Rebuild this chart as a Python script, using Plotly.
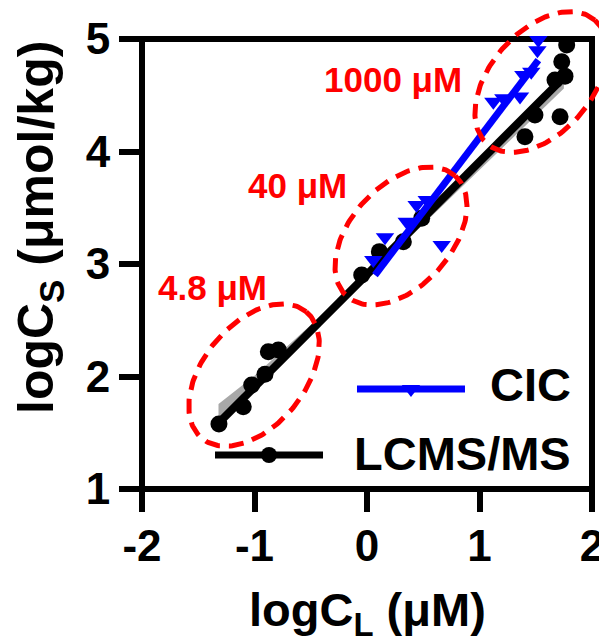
import numpy as np
import plotly.graph_objects as go

# browser window 607x643; the page body has an 8px default margin
WIN_W, WIN_H, OFF = 607, 643, 8
W, H = WIN_W - OFF, WIN_H - OFF
PX = 112.5  # px per data unit (both axes)

# ---------------- data ----------------
x_ticks = [-2, -1, 0, 1, 2]
x_ticktext = ["-2", "-1", "0", "1", "2"]
y_ticks = [1, 2, 3, 4, 5]
y_ticktext = ["1", "2", "3", "4", "5"]

lcms_x = [-1.316, -1.100, -1.025, -0.907, -0.877, -0.788, -0.047, 0.110, 0.323, 0.486,
          1.404, 1.493, 1.716, 1.671, 1.760, 1.731, 1.775]
lcms_y = [1.578, 1.732, 1.924, 2.020, 2.220, 2.236, 2.902, 3.110, 3.198, 3.406,
          4.131, 4.324, 4.309, 4.636, 4.670, 4.798, 4.947]

cic_x = [0.056, 0.160, 0.353, 0.441, 0.531, 0.664, 1.123, 1.212, 1.360, 1.390, 1.460, 1.515, 1.523]
cic_y = [3.036, 3.237, 3.376, 3.524, 3.569, 3.169, 4.443, 4.473, 4.490, 4.680, 4.710, 4.900, 4.991]

lcms_fit_x = [-1.32, 1.75]
lcms_fit_y = [1.585, 4.66]
cic_fit_x = [0.071, 1.523]
cic_fit_y = [2.902, 4.813]

band_x = [-1.32, -1.0, -0.5, 0.0, 0.5, 1.0, 1.5, 1.75]
band_hi = [1.755, 2.006, 2.457, 2.927, 3.418, 3.909, 4.410, 4.660]
band_lo = [1.555, 1.876, 2.362, 2.857, 3.353, 3.839, 4.320, 4.560]

group_labels = ["4.8 μM", "40 μM", "1000 μM"]
group_label_x = [-1.369, -0.622, 0.231]
group_label_y = [2.787, 3.702, 4.636]

ellipse_cx = [-1.004, 0.302, 1.547]
ellipse_cy = [2.013, 3.249, 4.618]
ellipse_a = [0.729, 0.720, 0.729]
ellipse_b = [0.453, 0.449, 0.453]
ellipse_deg = [50.6, 47.9, 49.0]

series_names = ["CIC", "LCMS/MS"]

# ---------------- layout geometry (window pixels) ----------------
left_px, right_px, top_px, bot_px = 142, 592, 39, 489
xdom = [(left_px - OFF) / W, (right_px - OFF) / W]
ydom = [1 - (bot_px - OFF) / H, 1 - (top_px - OFF) / H]
# full-figure overlay axes with identical scale
x2range = [-2 - (left_px - OFF) / PX, -2 + (WIN_W - left_px) / PX]
y2range = [1 - (WIN_H - bot_px) / PX, 1 + (bot_px - OFF) / PX]


def paper_x(px):
    return (px - OFF) / W


def paper_y(py):
    return 1 - (py - OFF) / H


FONT = "Liberation Sans, Arial, Helvetica, sans-serif"
BLUE = "#0000ff"
RED = "#ff0000"
GREY = "#a8a8a8"

fig = go.Figure()

# grey confidence band
fig.add_trace(go.Scatter(x=band_x + band_x[::-1], y=band_hi + band_lo[::-1],
                         fill="toself", fillcolor=GREY, line=dict(width=0),
                         mode="lines", hoverinfo="skip", showlegend=False))
# LCMS/MS fit + points
fig.add_trace(go.Scatter(x=lcms_fit_x, y=lcms_fit_y, mode="lines",
                         line=dict(color="black", width=8), showlegend=False))
fig.add_trace(go.Scatter(x=lcms_x, y=lcms_y, mode="markers", cliponaxis=False,
                         marker=dict(symbol="circle", size=17, color="black"),
                         showlegend=False))
# CIC fit + points
fig.add_trace(go.Scatter(x=cic_fit_x, y=cic_fit_y, mode="lines",
                         line=dict(color=BLUE, width=7), showlegend=False))
fig.add_trace(go.Scatter(x=cic_x, y=cic_y, mode="markers", cliponaxis=False,
                         marker=dict(symbol="triangle-down", size=16, color=BLUE),
                         showlegend=False))

# manual legend (Prism style)
leg_y = [1.889, 1.302]
leg_x0 = [-0.089, -1.351]
leg_x1 = [0.871, -0.391]
leg_colors = [BLUE, "black"]
leg_symbols = ["triangle-down", "circle"]
for i in range(2):
    fig.add_trace(go.Scatter(x=[leg_x0[i], leg_x1[i]], y=[leg_y[i]] * 2, mode="lines",
                             line=dict(color=leg_colors[i], width=7), showlegend=False))
    fig.add_trace(go.Scatter(x=[(leg_x0[i] + leg_x1[i]) / 2], y=[leg_y[i]], mode="markers",
                             marker=dict(symbol=leg_symbols[i], size=16, color=leg_colors[i]),
                             showlegend=False))

# dashed ellipses on full-figure overlay axes
t = np.linspace(0, 2 * np.pi, 200)
for cx, cy, a, b, d in zip(ellipse_cx, ellipse_cy, ellipse_a, ellipse_b, ellipse_deg):
    th = np.deg2rad(d)
    ex = cx + a * np.cos(t) * np.cos(th) - b * np.sin(t) * np.sin(th)
    ey = cy + a * np.cos(t) * np.sin(th) + b * np.sin(t) * np.cos(th)
    fig.add_trace(go.Scatter(x=ex, y=ey, xaxis="x2", yaxis="y2", mode="lines",
                             line=dict(color=RED, width=5, dash="15px,9px"),
                             hoverinfo="skip", showlegend=False))

annotations = []
for txt, lx, ly in zip(group_labels, group_label_x, group_label_y):
    annotations.append(dict(x=lx, y=ly, xref="x", yref="y", text=txt, showarrow=False,
                            xanchor="center", yanchor="middle",
                            font=dict(family=FONT, size=35, color=RED, weight="bold")))
leg_text_y = [1.933, 1.32]
for name, ly in zip(series_names, leg_text_y):
    annotations.append(dict(x=1.831, y=ly, xref="x", yref="y", text=name, showarrow=False,
                            xanchor="right", yanchor="middle",
                            font=dict(family=FONT, size=47, color="black", weight="bold")))
# axis titles
annotations.append(dict(x=paper_x(367), y=paper_y(613), xref="paper", yref="paper",
                        text="logC<sub>L</sub> (μM)", showarrow=False,
                        xanchor="center", yanchor="middle",
                        font=dict(family=FONT, size=47, color="black", weight="bold")))
annotations.append(dict(x=paper_x(39), y=paper_y(228), xref="paper", yref="paper",
                        text="logC<sub>S</sub> (μmol/kg)", showarrow=False, textangle=-90,
                        xanchor="center", yanchor="middle",
                        font=dict(family=FONT, size=50, color="black", weight="bold")))

axis_common = dict(showgrid=False, zeroline=False, showline=False, ticks="outside",
                   ticklen=22, tickwidth=6, tickcolor="black", automargin=False,
                   tickfont=dict(family=FONT, size=44, color="black", weight="bold"))

fig.update_layout(
    template="none",
    width=W, height=H, margin=dict(l=0, r=0, t=0, b=0, pad=0, autoexpand=False),
    paper_bgcolor="white", plot_bgcolor="rgba(0,0,0,0)",
    showlegend=False,
    xaxis=dict(domain=xdom, range=[-2, 2], tickvals=x_ticks, ticktext=x_ticktext,
               anchor="y", fixedrange=True, ticklabelstandoff=-4, **axis_common),
    yaxis=dict(domain=ydom, range=[1, 5], tickvals=y_ticks, ticktext=y_ticktext,
               anchor="x", fixedrange=True, **axis_common),
    xaxis2=dict(domain=[0, 1], range=x2range, anchor="y2", visible=False,
                fixedrange=True, automargin=False),
    yaxis2=dict(domain=[0, 1], range=y2range, anchor="x2", visible=False,
                fixedrange=True, automargin=False),
    annotations=annotations,
    shapes=[dict(type="rect", xref="x domain", yref="y domain", x0=0, x1=1, y0=0, y1=1,
                 line=dict(color="black", width=6), fillcolor="rgba(0,0,0,0)", layer="below")],
)

fig.write_html("out.html")
